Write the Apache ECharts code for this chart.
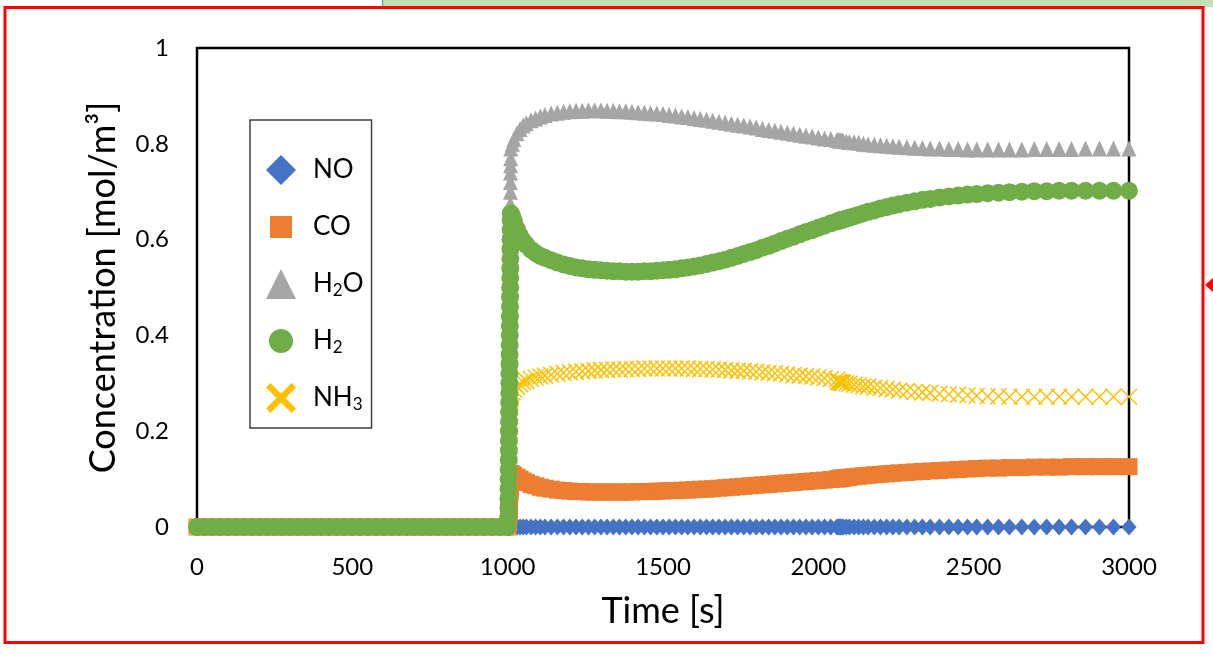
<!DOCTYPE html>
<html>
<head>
<meta charset="utf-8">
<script src="https://cdn.jsdelivr.net/npm/echarts@6/dist/echarts.min.js"></script>
<style>
html, body { margin: 0; padding: 0; background: #fff; }
#chart { width: 1213px; height: 658px; }
</style>
</head>
<body>
<div id="chart"></div>
<script>
// Simulation output: time [s] and outlet concentrations [mol/m3]
const timeSteps = [
  // feed off
  0, 25, 50, 75, 100, 125, 150, 175, 200, 225, 250, 275, 300, 325, 350, 375, 400, 425, 450, 475,
  500, 525, 550, 575, 600, 625, 650, 675, 700, 725, 750, 775, 800, 825, 850, 875, 900, 925, 950, 975, 1000,
  // feed switched on
  1002, 1002.25, 1002.5, 1002.75, 1003, 1003.25, 1003.5, 1003.75, 1004, 1004.25, 1004.5, 1004.75,
  1005, 1005.25, 1005.5, 1005.75, 1006, 1006.25, 1006.5, 1006.75, 1007, 1007.25, 1007.5, 1007.75,
  1008, 1008.25, 1008.5, 1008.75, 1009, 1009.25, 1009.5, 1009.75,
  // transient
  1010, 1015, 1020, 1030, 1040, 1050, 1060, 1075, 1090, 1105, 1120,
  1140, 1160, 1180, 1200, 1220, 1240, 1260, 1280, 1300, 1320,
  1340, 1360, 1380, 1400, 1420, 1440, 1460, 1480, 1500, 1520,
  1540, 1560, 1580, 1600, 1620, 1640, 1660, 1680, 1700, 1720,
  1740, 1760, 1780, 1800, 1820, 1840, 1860, 1880, 1900, 1920,
  1940, 1960, 1980, 2000, 2020, 2040, 2060,
  2064, 2068, 2072, 2076, 2080,
  2090, 2100,
  2115, 2130, 2145, 2160,
  2180, 2200, 2220, 2240, 2260,
  2285, 2310, 2335, 2360,
  2390, 2420, 2450, 2480, 2510,
  2545, 2580, 2615,
  2655, 2695, 2735, 2775, 2815,
  2860, 2905, 2950, 3000
];

const concNO = [
  0,0,0,0,0,0,0,0,0,0, 0,0,0,0,0,0,0,0,0,0, 0,0,0,0,0,0,0,0,0,0, 0,0,0,0,0,0,0,0,0,0, 0,
  0,0,0,0,0,0,0,0,0,0, 0,0,0,0,0,0,0,0,0,0, 0,0,0,0,0,0,0,0,0,0, 0,0,
  0,0,0,0,0,0,0,0,0,0,0,
  0,0,0,0,0,0,0,0,0,0,
  0,0,0,0,0,0,0,0,0,0,
  0,0,0,0,0,0,0,0,0,0,
  0,0,0,0,0,0,0,0,0,0,
  0,0,0,0,0,0,0,
  0,0,0,0,0,
  0,0,
  0,0,0,0,
  0,0,0,0,0,
  0,0,0,0,
  0,0,0,0,0,
  0,0,0,
  0,0,0,0,0,
  0,0,0,0
];

const concCO = [
  0,0,0,0,0,0,0,0,0,0, 0,0,0,0,0,0,0,0,0,0, 0,0,0,0,0,0,0,0,0,0, 0,0,0,0,0,0,0,0,0,0, 0,
  0.004,0.008,0.011,0.015,0.018,0.022,0.025,0.029,0.032,0.036,
  0.039,0.043,0.046,0.050,0.053,0.057,0.060,0.064,0.067,0.071,
  0.074,0.078,0.081,0.085,0.088,0.092,0.095,0.099,0.102,0.106, 0.109,0.112,
  0.110,0.109,0.107,0.104,0.100,0.096,0.093,0.089,0.086,0.083,0.081,
  0.079,0.077,0.076,0.075,0.074,0.074,0.073,0.073,0.073,0.073,
  0.073,0.073,0.073,0.073,0.074,0.074,0.074,0.075,0.075,0.076,
  0.076,0.077,0.077,0.078,0.079,0.079,0.080,0.081,0.082,0.083,
  0.084,0.085,0.086,0.087,0.088,0.089,0.090,0.091,0.092,0.093,
  0.094,0.095,0.096,0.097,0.098,0.099,0.100,
  0.101,0.101,0.102,0.102,0.102,
  0.103,0.104,
  0.105,0.106,0.107,0.108,
  0.109,0.110,0.111,0.112,0.113,
  0.114,0.115,0.116,0.117,
  0.118,0.119,0.120,0.121,0.122,
  0.123,0.123,0.124,
  0.124,0.125,0.125,0.125,0.126,
  0.126,0.126,0.126,0.126
];

const concH2O = [
  0,0,0,0,0,0,0,0,0,0, 0,0,0,0,0,0,0,0,0,0, 0,0,0,0,0,0,0,0,0,0, 0,0,0,0,0,0,0,0,0,0, 0,
  0.025,0.05,0.075,0.10,0.125,0.15,0.175,0.20,0.225,0.25,
  0.275,0.30,0.325,0.35,0.375,0.40,0.425,0.45,0.475,0.50,
  0.525,0.55,0.575,0.60,0.625,0.65,0.675,0.70,0.72,0.74, 0.755,0.77,
  0.790,0.800,0.810,0.822,0.831,0.838,0.843,0.849,0.853,0.857,0.860,
  0.863,0.865,0.867,0.868,0.869,0.869,0.870,0.870,0.870,0.869,
  0.869,0.868,0.868,0.867,0.866,0.865,0.864,0.863,0.862,0.860,
  0.859,0.857,0.856,0.854,0.852,0.850,0.848,0.846,0.844,0.842,
  0.840,0.838,0.836,0.834,0.831,0.829,0.827,0.825,0.823,0.821,
  0.819,0.817,0.815,0.813,0.811,0.810,0.808,
  0.808,0.807,0.807,0.807,0.806,
  0.805,0.804,
  0.803,0.802,0.800,0.799,
  0.798,0.797,0.796,0.795,0.794,
  0.793,0.792,0.791,0.790,
  0.790,0.789,0.789,0.788,0.788,
  0.788,0.788,0.788,
  0.788,0.789,0.789,0.789,0.789,
  0.790,0.790,0.790,0.790
];

const concH2 = [
  0,0,0,0,0,0,0,0,0,0, 0,0,0,0,0,0,0,0,0,0, 0,0,0,0,0,0,0,0,0,0, 0,0,0,0,0,0,0,0,0,0, 0,
  0.02,0.04,0.06,0.08,0.10,0.12,0.14,0.16,0.18,0.20,
  0.22,0.24,0.26,0.28,0.30,0.32,0.34,0.36,0.38,0.40,
  0.42,0.44,0.46,0.48,0.50,0.52,0.54,0.56,0.58,0.60, 0.62,0.64,
  0.655,0.648,0.638,0.622,0.608,0.597,0.589,0.579,0.572,0.566,0.562,
  0.557,0.552,0.548,0.545,0.542,0.540,0.538,0.537,0.536,0.535,
  0.534,0.534,0.533,0.533,0.533,0.534,0.534,0.535,0.536,0.537,
  0.538,0.540,0.542,0.544,0.546,0.549,0.552,0.555,0.558,0.562,
  0.566,0.570,0.574,0.578,0.583,0.587,0.592,0.597,0.602,0.606,
  0.611,0.616,0.620,0.625,0.629,0.634,0.638,
  0.639,0.640,0.641,0.641,0.642,
  0.644,0.646,
  0.649,0.652,0.655,0.658,
  0.661,0.665,0.668,0.671,0.674,
  0.677,0.680,0.683,0.685,
  0.688,0.690,0.692,0.694,0.695,
  0.697,0.698,0.699,
  0.700,0.701,0.701,0.702,0.702,
  0.702,0.702,0.702,0.702
];

const concNH3 = [
  0,0,0,0,0,0,0,0,0,0, 0,0,0,0,0,0,0,0,0,0, 0,0,0,0,0,0,0,0,0,0, 0,0,0,0,0,0,0,0,0,0, 0,
  0.01,0.02,0.03,0.04,0.05,0.06,0.07,0.08,0.09,0.10,
  0.11,0.12,0.13,0.14,0.15,0.16,0.17,0.18,0.19,0.20,
  0.21,0.22,0.23,0.24,0.25,0.26,0.265,0.27,0.272,0.274, 0.276,0.277,
  0.278,0.282,0.287,0.293,0.298,0.302,0.305,0.309,0.312,0.314,0.316,
  0.318,0.320,0.322,0.323,0.324,0.325,0.326,0.327,0.328,0.328,
  0.329,0.329,0.330,0.330,0.330,0.331,0.331,0.331,0.331,0.331,
  0.331,0.331,0.331,0.330,0.330,0.330,0.329,0.329,0.328,0.327,
  0.326,0.326,0.325,0.324,0.323,0.322,0.321,0.320,0.319,0.317,
  0.316,0.315,0.314,0.312,0.311,0.309,0.308,
  0.303,0.302,0.302,0.301,0.301,
  0.300,0.299,
  0.297,0.296,0.294,0.293,
  0.291,0.290,0.288,0.287,0.285,
  0.284,0.282,0.281,0.280,
  0.278,0.277,0.276,0.275,0.274,
  0.273,0.273,0.272,
  0.272,0.272,0.272,0.272,0.272,
  0.272,0.272,0.272,0.272
];

const xTicks = [0, 500, 1000, 1500, 2000, 2500, 3000];
const yTicks = ['0', '0.2', '0.4', '0.6', '0.8', '1'];

const FONT = 'Lato';
const crossMark = 'path://M0,0L10,10M10,0L0,10';
const crossIcon = 'path://M3,0L10,7L17,0L20,3L13,10L20,17L17,20L10,13L3,20L0,17L7,10L0,3Z';
const squareIcon = 'path://M0,0M30,30M4,4L26,4L26,26L4,26Z';
const circleIcon = 'path://M0,0M30,30M27,15A12,12,0,1,1,3,15A12,12,0,1,1,27,15Z';

function pairs(values) {
  const out = [];
  for (let i = 0; i < timeSteps.length; i++) {
    if (values[i] !== null && values[i] !== undefined) out.push([timeSteps[i], values[i]]);
  }
  return out;
}

const chart = echarts.init(document.getElementById('chart'), null, { renderer: 'canvas' });

const option = {
  backgroundColor: '#ffffff',
  animation: false,
  grid: {
    left: 197, right: 84, top: 48, bottom: 131,
    show: true, borderColor: '#000000', borderWidth: 2.5, backgroundColor: '#ffffff'
  },
  xAxis: {
    type: 'value', min: 0, max: 3000, interval: 500,
    name: 'Time [s]', nameLocation: 'middle', nameGap: 66,
    nameTextStyle: { fontFamily: FONT, fontSize: 36, color: '#000' },
    axisLine: { show: false }, axisTick: { show: false }, splitLine: { show: false },
    axisLabel: {
      margin: 28, fontFamily: FONT, fontSize: 24, color: '#000',
      formatter: v => (xTicks.indexOf(v) >= 0 ? String(v) : '')
    }
  },
  yAxis: {
    type: 'value', min: 0, max: 1, interval: 0.2,
    name: 'Concentration [mol/m³]', nameLocation: 'middle', nameGap: 76,
    nameTextStyle: { fontFamily: FONT, fontSize: 36, color: '#000' },
    axisLine: { show: false }, axisTick: { show: false }, splitLine: { show: false },
    axisLabel: {
      margin: 28, fontFamily: FONT, fontSize: 24, color: '#000',
      formatter: v => yTicks[Math.round(v / 0.2)]
    }
  },
  legend: {
    orient: 'vertical', left: 250, top: 120,
    itemWidth: 30, itemHeight: 30, itemGap: 27, itemTextGap: 6,
    padding: [35, 8, 15, 16],
    borderColor: '#404040', borderWidth: 1.5, backgroundColor: '#ffffff',
    data: [
      { name: 'NO', icon: 'diamond', itemStyle: { opacity: 1 } },
      { name: 'CO', icon: squareIcon, itemStyle: { opacity: 1 } },
      { name: 'H2O', icon: 'triangle', itemStyle: { opacity: 1 } },
      { name: 'H2', icon: circleIcon, itemStyle: { opacity: 1 } },
      { name: 'NH3', icon: crossIcon, itemStyle: { color: '#FFC000', borderWidth: 0, opacity: 1 } }
    ],
    formatter: function (name) {
      const rich = { H2O: '{t|H}{s|2}{t|O}', H2: '{t|H}{s|2}', NH3: '{t|NH}{s|3}' };
      return '{g|}' + (rich[name] || '{t|' + name + '}');
    },
    textStyle: {
      fontFamily: FONT, color: '#000',
      rich: {
        g: { width: 12, lineHeight: 30 },
        t: { fontFamily: FONT, fontSize: 26, lineHeight: 30, color: '#000' },
        s: { fontFamily: FONT, fontSize: 17, lineHeight: 14, verticalAlign: 'bottom', color: '#000' }
      }
    }
  },
  series: [
    { name: 'NO', type: 'scatter', clip: false, z: 3, symbol: 'diamond', symbolSize: [15, 17],
      itemStyle: { color: '#4472C4', opacity: 1 }, data: pairs(concNO) },
    { name: 'CO', type: 'scatter', clip: false, z: 3, symbol: 'rect', symbolSize: 17,
      itemStyle: { color: '#ED7D31', opacity: 1 }, data: pairs(concCO) },
    { name: 'H2O', type: 'scatter', clip: false, z: 3, symbol: 'triangle', symbolSize: [15, 16],
      itemStyle: { color: '#A5A5A5', opacity: 1 }, data: pairs(concH2O) },
    { name: 'H2', type: 'scatter', clip: false, z: 4, symbol: 'circle', symbolSize: 18,
      itemStyle: { color: '#70AD47', opacity: 1 }, data: pairs(concH2) },
    { name: 'NH3', type: 'scatter', clip: false, z: 3, symbol: crossMark, symbolSize: 16,
      itemStyle: { color: '#FFC000', borderColor: '#FFC000', borderWidth: 1.5, opacity: 1 }, data: pairs(concNH3) }
  ],
  graphic: [
    // slide elements around the chart frame
    { type: 'rect', z: 0, shape: { x: 383, y: 0, width: 830, height: 7 }, style: { fill: '#C5E0B4' } },
    { type: 'line', z: 0, shape: { x1: 382.5, y1: 0, x2: 382.5, y2: 8 }, style: { stroke: '#8497B0', lineWidth: 1.5 } },
    { type: 'rect', z: 10, shape: { x: 5, y: 7.5, width: 1198, height: 635 }, style: { fill: 'none', stroke: '#FF0000', lineWidth: 3 } },
    { type: 'polygon', z: 10, shape: { points: [[1205, 285], [1213, 278], [1213, 292]] }, style: { fill: '#FF0000' } }
  ]
};

chart.setOption(option);
</script>
</body>
</html>
